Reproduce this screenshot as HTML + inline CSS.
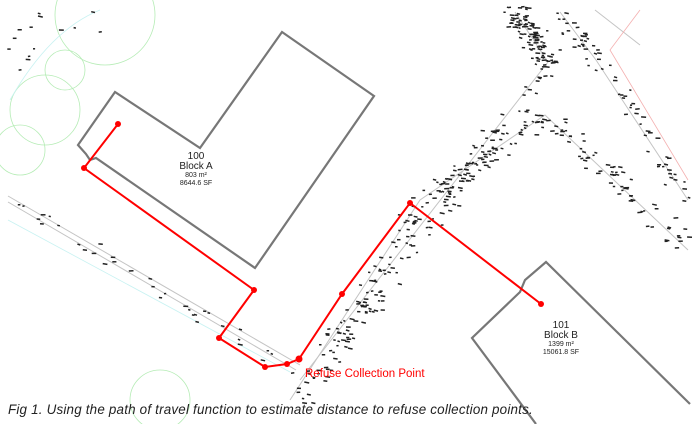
<!DOCTYPE html>
<html><head><meta charset="utf-8">
<style>
html,body{margin:0;padding:0;background:#fff;}
body{width:695px;height:424px;overflow:hidden;position:relative;font-family:"Liberation Sans",sans-serif;}
svg{position:absolute;left:0;top:0;}
.cap{position:absolute;left:8px;top:402px;font-style:italic;font-size:13.4px;letter-spacing:0.2px;color:#222;white-space:nowrap;}
</style></head><body>
<svg id="s" width="695" height="424" viewBox="0 0 695 424">
<g fill="none" stroke="#b5ecb5" stroke-width="0.8">
<circle cx="105" cy="15" r="50"/>
<circle cx="65" cy="70" r="20"/>
<circle cx="45" cy="110" r="35"/>
<circle cx="20" cy="150" r="25"/>
<circle cx="160" cy="400" r="30"/>
</g>
<g fill="none" stroke="#c8f2f2" stroke-width="0.8">
<path d="M10 100 Q50 30 100 10"/>
<path d="M8 220 L290 372"/>
</g>
<g fill="none" stroke="#c4c4c4" stroke-width="1">
<path d="M8 196 L300 365"/>
<path d="M8 202 L296 370"/>
<path d="M515 12 L548 62 L300 380"/>
<path d="M290 400 L420 200 L545 115 L688 250"/>
<path d="M560 12 L596 60 L688 200"/>
<path d="M595 10 L640 45"/>
</g>
<path d="M640 10 L610 50 L688 180" fill="none" stroke="#f4b0b0" stroke-width="0.8"/>
<g id="d" stroke="#222" stroke-width="1.5"></g>
<g fill="none" stroke="#777" stroke-width="2.2">
<path d="M282 32 L374 96 L255 268 L96 158 L90 160 L86 154 L78 145 L115 92 L200 148 Z" stroke-linejoin="miter"/>
<path d="M536 424 L472 338 L520 292 L525 280 L546 262 L690 404"/>
</g>
<g fill="none" stroke="#f00" stroke-width="2">
<polyline points="118,124 84,168 254,290 219,338 265,367 287,364 299,359 342,294 410,203 541,304"/>
</g>
<g fill="#f00">
<circle cx="118" cy="124" r="3"/><circle cx="84" cy="168" r="3"/><circle cx="254" cy="290" r="3"/>
<circle cx="219" cy="338" r="3"/><circle cx="265" cy="367" r="3"/><circle cx="287" cy="364" r="3"/>
<circle cx="299" cy="359" r="3.5"/><circle cx="342" cy="294" r="3"/><circle cx="410" cy="203" r="3"/><circle cx="541" cy="304" r="3"/>
</g>
<g fill="#222" text-anchor="middle" font-family="Liberation Sans, sans-serif">
<text x="196" y="159" font-size="10">100</text>
<text x="196" y="169" font-size="10">Block A</text>
<text x="196" y="177" font-size="7">803 m²</text>
<text x="196" y="185" font-size="7">8644.6 SF</text>
<text x="561" y="328" font-size="10">101</text>
<text x="561" y="338" font-size="10">Block B</text>
<text x="561" y="346" font-size="7">1399 m²</text>
<text x="561" y="354" font-size="7">15061.8 SF</text>
</g>
<text x="305" y="377" font-size="11.5" fill="#f00" font-family="Liberation Sans, sans-serif">Refuse Collection Point</text>
</svg>
<div class="cap">Fig 1. Using the path of travel function to estimate distance to refuse collection points.</div>
<script>
var seed=7;function r(){seed=(seed*16807)%2147483647;return seed/2147483647;}
var g=document.getElementById('d'),h='';
function band(pts,n,spread){
 for(var i=0;i<n;i++){
  var t=r()*(pts.length-1),k=Math.floor(t),f=t-k;
  var x=pts[k][0]+(pts[k+1][0]-pts[k][0])*f+(r()-0.5)*spread;
  var y=pts[k][1]+(pts[k+1][1]-pts[k][1])*f+(r()-0.5)*spread;
  var l=2+r()*3,dy=(r()-0.3)*1.5;
  h+='<line x1="'+x.toFixed(1)+'" y1="'+y.toFixed(1)+'" x2="'+(x+l).toFixed(1)+'" y2="'+(y+dy).toFixed(1)+'"/>';
 }
}
band([[515,14],[548,62],[300,390]],230,24);
band([[300,400],[420,200],[545,115],[688,250]],200,20);
band([[560,14],[596,60],[688,200]],70,18);
band([[10,60],[60,20],[120,10]],14,40);
band([[10,200],[290,370]],34,14);
g.innerHTML=h;
</script>
</body></html>
